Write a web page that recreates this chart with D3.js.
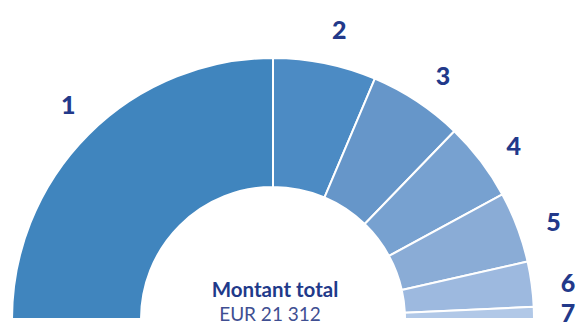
<!DOCTYPE html>
<html>
<head>
<meta charset="utf-8">
<script src="https://cdn.jsdelivr.net/npm/d3@7"></script>
<style>
  html, body { margin: 0; padding: 0; background: #ffffff; }
  svg { display: block; }
</style>
</head>
<body>
<svg id="chart" width="578" height="327"></svg>
<script>
// Segment labels and amounts (EUR), in drawing order from left to right
const categories = ["1", "2", "3", "4", "5", "6", "7"];
const amounts = [10656, 2720, 2490, 2070, 1870, 1190, 316];
const colors = ["#4085be", "#4c8bc4", "#6696c9", "#77a1d0", "#8aacd6", "#9db9df", "#b1c8e7"];

const centerTitle = "Montant total";
const currency = "EUR";

const width = 578, height = 327;
const cx = 273, cy = 319;
const outerR = 261, innerR = 132, labelR = 297;
const labelSize = 25;
const labelShift = 1.4 * Math.PI / 180;   // labels sit slightly clockwise of the segment middle

const svg = d3.select("#chart");
const g = svg.append("g").attr("transform", `translate(${cx},${cy})`);

const data = categories.map((c, i) => ({ name: c, value: amounts[i], color: colors[i] }));

const pie = d3.pie()
  .value(d => d.value)
  .sort(null)
  .startAngle(-Math.PI / 2)
  .endAngle(Math.PI / 2);

const arcs = pie(data);

const arc = d3.arc().innerRadius(innerR).outerRadius(outerR);

g.selectAll("path.seg")
  .data(arcs)
  .join("path")
  .attr("class", "seg")
  .attr("d", arc)
  .attr("fill", d => d.data.color)
  .attr("stroke", "#ffffff")
  .attr("stroke-width", 2)
  .attr("stroke-linejoin", "round");

// Label positions along each segment's middle angle, kept inside the drawing area
const labelPts = arcs.map(d => {
  const a = (d.startAngle + d.endAngle) / 2 + labelShift;
  return {
    x: Math.min(labelR * Math.sin(a), width - cx - 10),
    y: Math.min(-labelR * Math.cos(a), height - cy - 15)
  };
});
// keep the small labels on the right from stacking into each other
const minGap = labelSize * 1.22;
for (let i = labelPts.length - 2; i >= 0; i--) {
  const next = labelPts[i + 1];
  if (Math.abs(labelPts[i].x - next.x) < 20 && next.y - labelPts[i].y < minGap) {
    labelPts[i].y = next.y - minGap;
  }
}

g.selectAll("text.seg-label")
  .data(arcs)
  .join("text")
  .attr("class", "seg-label")
  .attr("transform", (d, i) => `translate(${labelPts[i].x},${labelPts[i].y})`)
  .attr("text-anchor", "middle")
  .attr("dominant-baseline", "central")
  .attr("font-family", "Lato, 'Open Sans', sans-serif")
  .attr("font-weight", 900)
  .attr("font-size", labelSize)
  .attr("fill", "#22398a")
  .text(d => d.data.name);

// Total in the centre of the half ring
const total = d3.sum(amounts);
const fmt = d3.formatLocale({ decimal: ",", thousands: " ", grouping: [3], currency: ["", ""] }).format(",d");

svg.append("text")
  .attr("x", 275)
  .attr("y", 297)
  .attr("text-anchor", "middle")
  .attr("font-family", "Lato, 'Open Sans', sans-serif")
  .attr("font-weight", 700)
  .attr("font-size", 20.5)
  .attr("fill", "#1f3a8a")
  .text(centerTitle);

svg.append("text")
  .attr("x", 270)
  .attr("y", 321)
  .attr("text-anchor", "middle")
  .attr("font-family", "Lato, 'Open Sans', sans-serif")
  .attr("font-weight", 400)
  .attr("font-size", 19)
  .attr("fill", "#3f4f92")
  .text(`${currency} ${fmt(total)}`);
</script>
</body>
</html>
